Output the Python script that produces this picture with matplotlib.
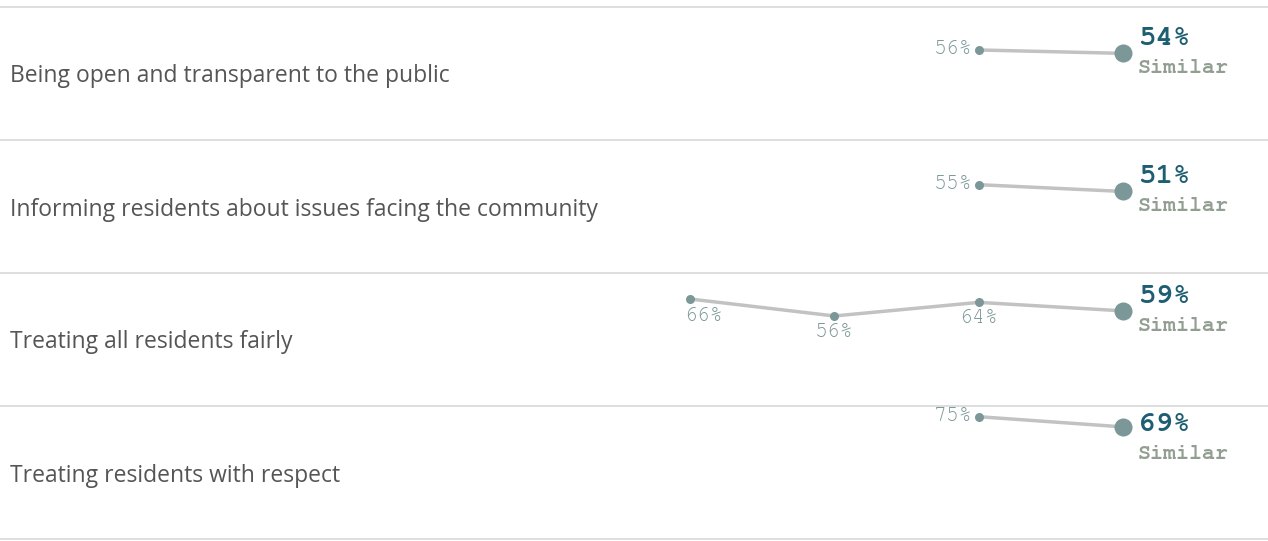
import matplotlib
matplotlib.use("Agg")
import matplotlib.pyplot as plt
import numpy as np
import logging
logging.getLogger("matplotlib.font_manager").setLevel(logging.ERROR)

# ---- data ----
categories = [
    "Being open and transparent to the public",
    "Informing residents about issues facing the community",
    "Treating all residents fairly",
    "Treating residents with respect",
]
waves = ["W1", "W2", "W3", "W4"]
values = [
    [None, None, 56, 54],
    [None, None, 55, 51],
    [66, 56, 64, 59],
    [None, None, 75, 69],
]
comparison = ["Similar", "Similar", "Similar", "Similar"]

# ---- style ----
W, H = 1268, 541
DPI = 100
PX = 72.0 / DPI  # points per pixel
fig = plt.figure(figsize=(W / DPI, H / DPI), dpi=DPI)
fig.patch.set_facecolor("white")

band_top = 7
band_h = 133
x0_px, x3_px = 690, 1123
unit = (x3_px - x0_px) / 3.0
xlim = (-x0_px / unit, (W - x0_px) / unit)
ylim = (3.0, 81.3)

line_c = "#c2c2c2"
dot_c = "#7c9798"
small_txt_c = "#7a9595"
big_txt_c = "#1d5e72"
sim_c = "#929e91"
sep_c = "#d8d8d8"
label_c = "#555555"

mono = ["Courier New", "Nimbus Mono PS", "FreeMono", "Liberation Mono", "DejaVu Sans Mono"]

big_dy = [14, 14, 14, 2]
sim_dy = [-15, -15, -15, -27]
small_fs = 15.5

for i, (cat, vals) in enumerate(zip(categories, values)):
    top = band_top + i * band_h
    ax = fig.add_axes([0, 1 - (top + band_h) / H, 1, band_h / H])
    ax.set_xlim(*xlim)
    ax.set_ylim(*ylim)
    ax.set_xticks([])
    ax.set_yticks([])
    for s in ["left", "right"]:
        ax.spines[s].set_visible(False)
    ax.spines["top"].set_color(sep_c)
    ax.spines["top"].set_linewidth(1.2)
    if i == len(categories) - 1:
        ax.spines["bottom"].set_color(sep_c)
        ax.spines["bottom"].set_linewidth(1.2)
    else:
        ax.spines["bottom"].set_visible(False)
    ax.patch.set_alpha(0)

    xs = [k for k, v in enumerate(vals) if v is not None]
    ys = [v for v in vals if v is not None]
    ax.plot(xs, ys, color=line_c, lw=2.5, solid_capstyle="butt", zorder=1)
    ax.plot(xs[:-1], ys[:-1], "o", color=dot_c, ms=6.5, mec="none", zorder=2)
    ax.plot(xs[-1], ys[-1], "o", color=dot_c, ms=13, mec="none", zorder=2)

    below = len(xs) > 2
    for j, (x, y) in enumerate(zip(xs[:-1], ys[:-1])):
        if below:
            if j == 0:
                ax.annotate(f"{y}%", (x, y), xytext=(-6 * PX, -17 * PX),
                            textcoords="offset points", ha="left", va="center",
                            fontsize=small_fs, family=mono, color=small_txt_c)
            else:
                ax.annotate(f"{y}%", (x, y), xytext=(0, -16 * PX),
                            textcoords="offset points", ha="center", va="center",
                            fontsize=small_fs, family=mono, color=small_txt_c)
        else:
            ax.annotate(f"{y}%", (x, y), xytext=(-6 * PX, 1 * PX),
                        textcoords="offset points", ha="right", va="center",
                        fontsize=small_fs, family=mono, color=small_txt_c)

    ax.annotate(f"{ys[-1]}%", (xs[-1], ys[-1]), xytext=(15 * PX, big_dy[i] * PX),
                textcoords="offset points", ha="left", va="center",
                fontsize=21, family=mono, fontweight="bold", color=big_txt_c)
    ax.annotate(comparison[i], (xs[-1], ys[-1]), xytext=(15 * PX, sim_dy[i] * PX),
                textcoords="offset points", ha="left", va="center",
                fontsize=15.6, family=mono, fontweight="bold", color=sim_c)

    ax.text(10 / W, 0.5, cat, transform=ax.transAxes, ha="left",
            va="center_baseline", fontsize=16.5,
            family=["Open Sans", "DejaVu Sans"], color=label_c)

fig.savefig("out.png", dpi=DPI, facecolor="white")
